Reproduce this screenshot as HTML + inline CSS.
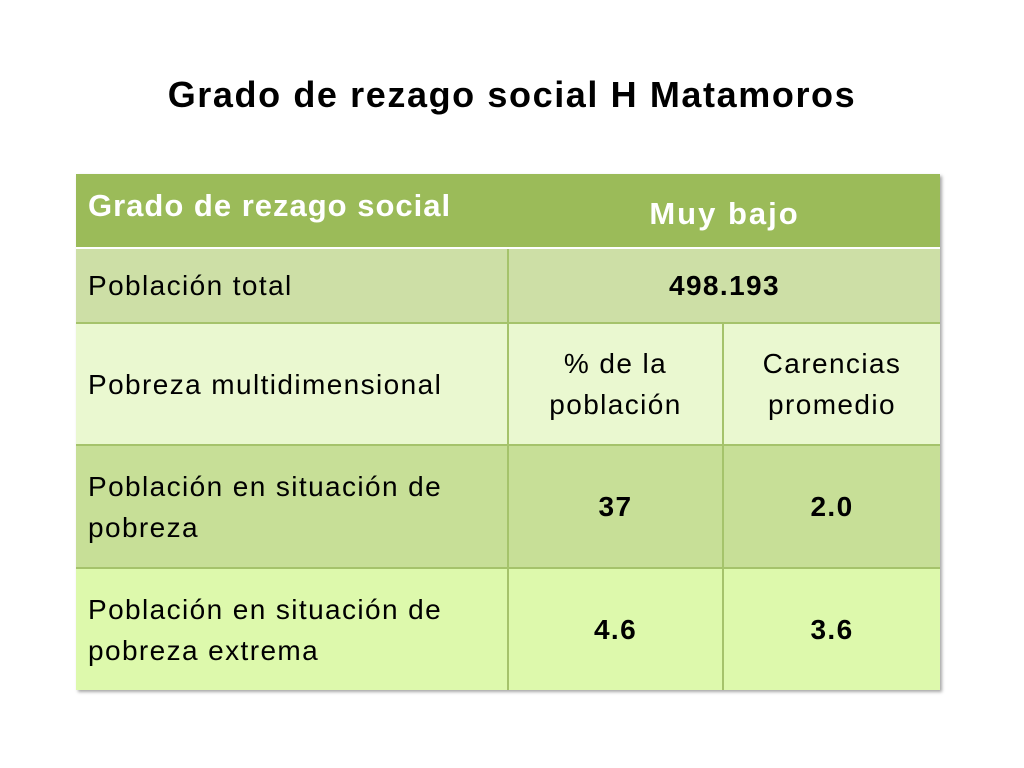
<!DOCTYPE html>
<html><head><meta charset="utf-8"><style>
body{margin:0;width:1024px;height:768px;background:#fff;position:relative;overflow:hidden;font-family:"Liberation Sans",sans-serif}
.t{position:absolute;left:0;width:1024px;top:74px;text-align:center;font-weight:bold;font-size:36px;letter-spacing:1.6px;color:#000}
.c{position:absolute;box-sizing:border-box;display:flex;align-items:center;font-size:28px;letter-spacing:1.4px;line-height:41px;color:#000}
.l{padding-left:12px}
.m{justify-content:center;text-align:center}
.b{font-weight:bold}
.tbl{position:absolute;left:76px;top:174px;width:864px;height:516px;box-shadow:2px 2px 3px rgba(0,0,0,.35);background:#a5c36b}
</style></head><body>
<div class="t">Grado de rezago social H Matamoros</div>
<div class="tbl"></div>
<div class="c l b" style="left:76px;top:174px;width:864px;height:73px;background:#9bbb59;color:#fff;font-size:31px;letter-spacing:1px;align-items:flex-start;padding-top:11px">Grado de rezago social</div>
<div class="c m b" style="left:509px;top:174px;width:431px;height:73px;color:#fff;font-size:31px;letter-spacing:2px;padding-top:6px">Muy bajo</div>
<div style="position:absolute;left:76px;top:247px;width:864px;height:2px;background:#fff"></div>
<div class="c l" style="left:76px;top:249px;width:431px;height:73px;background:#cddfa6">Población total</div>
<div class="c m b" style="left:509px;top:249px;width:431px;height:73px;background:#cddfa6">498.193</div>
<div class="c l" style="left:76px;top:324px;width:431px;height:120px;background:#eaf8d0">Pobreza multidimensional</div>
<div class="c m" style="left:509px;top:324px;width:213px;height:120px;background:#eaf8d0">% de la<br>población</div>
<div class="c m" style="left:724px;top:324px;width:216px;height:120px;background:#eaf8d0">Carencias<br>promedio</div>
<div class="c l" style="left:76px;top:446px;width:431px;height:121px;background:#c7df97">Población en situación de<br>pobreza</div>
<div class="c m b" style="left:509px;top:446px;width:213px;height:121px;background:#c7df97">37</div>
<div class="c m b" style="left:724px;top:446px;width:216px;height:121px;background:#c7df97">2.0</div>
<div class="c l" style="left:76px;top:569px;width:431px;height:121px;background:#ddf9ac">Población en situación de<br>pobreza extrema</div>
<div class="c m b" style="left:509px;top:569px;width:213px;height:121px;background:#ddf9ac">4.6</div>
<div class="c m b" style="left:724px;top:569px;width:216px;height:121px;background:#ddf9ac">3.6</div>
</body></html>
